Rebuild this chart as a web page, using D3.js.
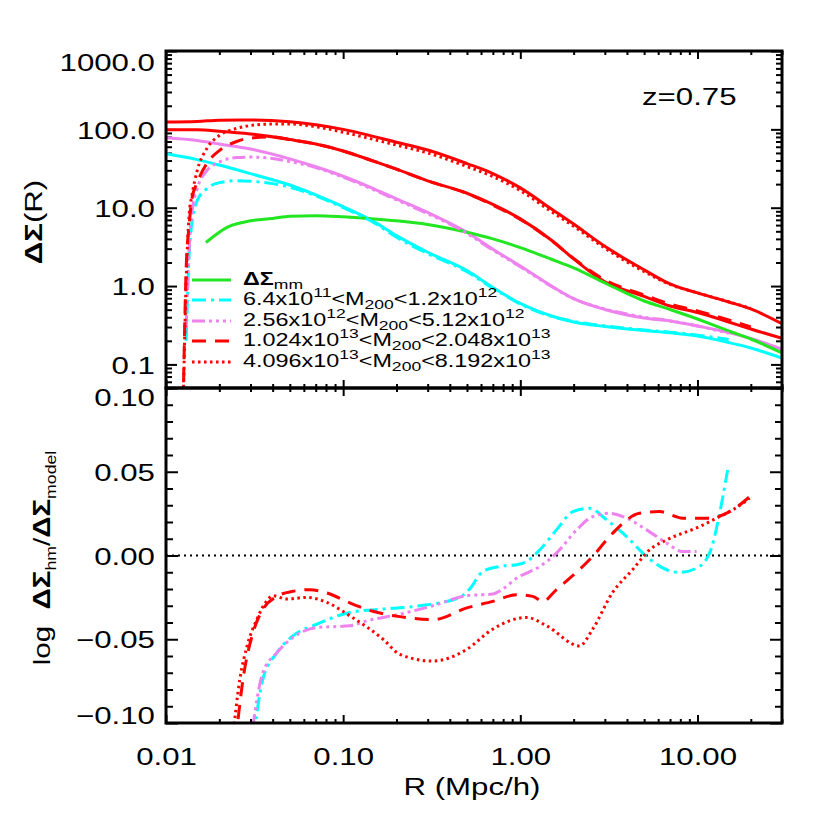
<!DOCTYPE html>
<html>
<head>
<meta charset="utf-8">
<script src="https://cdn.jsdelivr.net/npm/d3@7"></script>
<style>
body { margin: 0; background: #fff; }
text { font-family: "Liberation Sans", Arial, sans-serif; fill: #000; }
</style>
</head>
<body>
<svg id="chart" width="830" height="830"></svg>
<script>
// ---- top panel: Delta Sigma(R) ----
const rGrid = [0.01, 0.015, 0.02, 0.03, 0.05, 0.07, 0.1, 0.15, 0.2, 0.3, 0.5, 0.7, 1, 1.5, 2, 3, 5, 7, 10, 15, 20, 30];
const modelBin1 = [48.7, 41.1, 35, 27.2, 19.5, 14.6, 10.3, 6.6, 4.4, 2.7, 1.58, 0.96, 0.6, 0.415, 0.348, 0.305, 0.271, 0.254, 0.23, 0.19, 0.162, 0.12];
const modelBin2 = [78, 72, 65, 56.1, 42, 33.3, 25.2, 17.3, 13, 8.7, 4.85, 2.95, 1.8, 1.0, 0.69, 0.502, 0.391, 0.358, 0.309, 0.255, 0.214, 0.156];
const modelBin3 = [98.6, 98.6, 94.6, 87.3, 74, 65, 53, 39, 31, 22, 15.3, 11.0, 7.2, 3.84, 2.22, 1.13, 0.74, 0.557, 0.46, 0.348, 0.283, 0.215];
const modelBin4 = [124, 126, 131, 132, 125, 114.3, 99.9, 80.8, 68.6, 54.5, 36.6, 27.3, 17.9, 9.62, 6.18, 3.21, 1.61, 1.064, 0.817, 0.627, 0.51, 0.331];

const mmR = [0.0168, 0.0224, 0.03, 0.04, 0.05, 0.07, 0.1, 0.15, 0.2, 0.3, 0.5, 0.7, 1, 1.5, 2, 3, 5, 7, 10, 15, 20, 30];
const mmVals = [3.6, 5.7, 6.8, 7.3, 7.8, 7.9, 7.65, 7.2, 6.8, 6.1, 4.85, 4.0, 3.1, 2.2, 1.71, 1.1, 0.645, 0.502, 0.38, 0.267, 0.211, 0.14];

const hmGrid = [0.0125, 0.013, 0.0135, 0.014, 0.015, 0.017, 0.02, 0.025, 0.03, 0.04, 0.05, 0.07, 0.1, 0.15, 0.2, 0.3, 0.5, 0.7, 1, 1.5, 2, 3, 5, 7, 10, 15, 20];
const hmBin1 = [null, 0.2, 2.43, 6.4, 12.3, 17.5, 20.9, 22.1, 21.8, 20.3, 18.3, 14.2, 10.0, 6.4, 4.2, 2.6, 1.52, 0.94, 0.59, 0.41, 0.355, 0.31, 0.275, 0.258, 0.236, 0.208, null];
const hmBin2 = [null, 0.29, 2.8, 8.6, 17.5, 29.7, 38.2, 43.6, 44.3, 42.4, 38.8, 32.5, 24.5, 16.8, 12.6, 8.4, 4.7, 2.88, 1.76, 0.99, 0.69, 0.51, 0.40, 0.36, 0.31, 0.25, null];
const hmBin3 = [0.03, 1.71, 5.9, 13, 20.9, 36.6, 53.6, 70, 77.5, 80, 74, 65, 53, 39, 31, 22, 15.2, 10.8, 7.1, 3.8, 2.25, 1.2, 0.77, 0.59, 0.48, 0.37, 0.3];
const hmBin4 = [0.03, 1.16, 7.9, 14.2, 29.7, 56.9, 83.4, 102.6, 112, 117, 117, 108, 92, 74, 63, 50, 33.5, 25, 16.5, 8.9, 5.8, 3.05, 1.53, 1.05, 0.82, 0.63, 0.52];

// ---- bottom panel: log ratio ----
const ratioR1 = [0.030, 0.0352, 0.0423, 0.052, 0.0711, 0.109, 0.168, 0.271, 0.455, 0.518, 0.614, 0.766, 0.955, 1.086, 1.29, 1.60, 1.98, 2.46, 3.07, 3.98, 5.16, 6.70, 7.93, 9.89, 11.7, 13.0, 13.9, 14.8];
const ratio1 = [-0.125, -0.074, -0.058, -0.048, -0.041, -0.034, -0.032, -0.030, -0.025, -0.020, -0.0095, -0.0065, -0.0055, -0.0036, 0.0034, 0.0153, 0.0262, 0.0282, 0.0213, 0.0113, -0.0006, -0.0085, -0.0101, -0.0075, 0.0014, 0.0193, 0.0351, 0.051];
const ratioR2 = [0.029, 0.0352, 0.0423, 0.052, 0.0711, 0.109, 0.136, 0.209, 0.321, 0.499, 0.698, 0.796, 0.955, 1.29, 1.60, 2.08, 2.56, 3.19, 3.98, 5.16, 6.70, 8.24, 9.89];
const ratio2 = [-0.125, -0.070, -0.058, -0.049, -0.043, -0.042, -0.039, -0.035, -0.030, -0.024, -0.023, -0.020, -0.0135, -0.0065, 0.0014, 0.0153, 0.0232, 0.0252, 0.0223, 0.0153, 0.0074, 0.0024, 0.0024];
const ratioR3 = [0.024, 0.0272, 0.031, 0.0352, 0.0423, 0.052, 0.0649, 0.0809, 0.109, 0.147, 0.209, 0.321, 0.499, 0.698, 0.955, 1.175, 1.337, 1.60, 2.56, 3.32, 4.71, 6.11, 8.24, 11.7, 15.2, 19.7];
const ratio3 = [-0.125, -0.074, -0.046, -0.0323, -0.0244, -0.0214, -0.0204, -0.0224, -0.0283, -0.0333, -0.0365, -0.0383, -0.0313, -0.0274, -0.0234, -0.0244, -0.0274, -0.0204, -0.0006, 0.0133, 0.0252, 0.0262, 0.0223, 0.0223, 0.0262, 0.0351];
const ratioR4 = [0.0235, 0.0261, 0.0287, 0.0326, 0.0371, 0.0401, 0.0481, 0.0624, 0.0809, 0.109, 0.168, 0.209, 0.321, 0.400, 0.499, 0.698, 1.086, 1.41, 2.16, 2.56, 3.32, 4.30, 5.37, 6.70, 10.3, 12.8, 15.8, 19.7];
const ratio4 = [-0.115, -0.074, -0.054, -0.038, -0.027, -0.024, -0.026, -0.025, -0.028, -0.036, -0.050, -0.059, -0.063, -0.061, -0.056, -0.044, -0.037, -0.042, -0.054, -0.044, -0.022, -0.0085, 0.0034, 0.0093, 0.0173, 0.0223, 0.0272, 0.0342];

// ---- ticks and labels ----
const xMajor = [0.01, 0.1, 1, 10];
const yTopMajor = [0.1, 1, 10, 100, 1000];
const yBotMajor = [-0.1, -0.05, 0, 0.05, 0.1];
const legendLabels = [
    [['ΔΣ', 'b'], ['mm', 'sub']],
    [['6.4x10'], ['11', 'sup'], ['<M'], ['200', 'sub'], ['<1.2x10'], ['12', 'sup']],
    [['2.56x10'], ['12', 'sup'], ['<M'], ['200', 'sub'], ['<5.12x10'], ['12', 'sup']],
    [['1.024x10'], ['13', 'sup'], ['<M'], ['200', 'sub'], ['<2.048x10'], ['13', 'sup']],
    [['4.096x10'], ['13', 'sup'], ['<M'], ['200', 'sub'], ['<8.192x10'], ['13', 'sup']]
];

const plotLeft = 166, plotRight = 782, plotTop = 51, plotMid = 388, plotBottom = 723;
const stretch = 'scale(1.3,1)';
const green = '#22e622', cyan = '#00ffff', violet = '#ee82ee', red = '#ff0000';
const dashDot = '14,5,3,5', dashDot3 = '13,4,3,4,3,4,3,4', dashed = '14,9', dotted = '2.5,3.5';

const svg = d3.select('#chart');

const xScale = d3.scaleLog().domain([0.01, 30]).range([plotLeft, plotRight]);
const yTop = d3.scaleLog().domain([0.05, 1000]).range([plotMid, plotTop]);
const yBot = d3.scaleLinear().domain([-0.1, 0.1]).range([plotBottom, plotMid]);

const defs = svg.append('defs');
defs.append('clipPath').attr('id', 'clipTop')
    .append('rect').attr('x', plotLeft).attr('y', plotTop)
    .attr('width', plotRight - plotLeft).attr('height', plotMid - plotTop);
defs.append('clipPath').attr('id', 'clipBot')
    .append('rect').attr('x', plotLeft).attr('y', plotMid)
    .attr('width', plotRight - plotLeft).attr('height', plotBottom - plotMid);

const isMajor = (v, majors) => majors.some(m => Math.abs(v / m - 1) < 1e-6);
const xMinor = xScale.ticks().filter(v => !isMajor(v, xMajor));
const yTopMinor = yTop.ticks().filter(v => !isMajor(v, yTopMajor));
const yBotMinor = d3.range(-9, 10).map(i => i / 100).filter(v => Math.round(v * 100) % 5 !== 0);

function addAxis(axisFn, scale, values, size, transform, fmt, pad) {
    const ax = axisFn(scale)
        .tickValues(values)
        .tickSize(-size)
        .tickSizeOuter(0)
        .tickPadding(pad || 0)
        .tickFormat(fmt || (() => ''));
    const g = svg.append('g')
        .attr('transform', transform)
        .call(ax)
        .attr('font-family', '"Liberation Sans", Arial, sans-serif')
        .attr('font-size', 24);
    g.select('.domain').remove();
    g.selectAll('line').attr('stroke', '#000').attr('stroke-width', 2);
    g.selectAll('text').attr('fill', '#000').attr('transform', stretch);
    return g;
}

// x ticks on both edges of both panels
[[plotMid, plotTop], [plotBottom, plotMid]].forEach(([yb, yt]) => {
    addAxis(d3.axisBottom, xScale, xMajor, 8, `translate(0,${yb})`);
    addAxis(d3.axisBottom, xScale, xMinor, 4, `translate(0,${yb})`);
    addAxis(d3.axisTop, xScale, xMajor, 8, `translate(0,${yt})`);
    addAxis(d3.axisTop, xScale, xMinor, 4, `translate(0,${yt})`);
});
// x labels under the bottom panel
addAxis(d3.axisBottom, xScale, xMajor, 0, `translate(0,${plotBottom})`, d3.format('.2f'), 25)
    .selectAll('line').remove();

// top panel y ticks
const topLabels = addAxis(d3.axisLeft, yTop, yTopMajor, 11, `translate(${plotLeft},0)`, d3.format('.1f'), 8.5);
topLabels.selectAll('text').attr('dy', '0.36em').attr('y', d => d === 1000 ? 11 : 0);
addAxis(d3.axisLeft, yTop, yTopMinor, 6, `translate(${plotLeft},0)`);
addAxis(d3.axisRight, yTop, yTopMajor, 11, `translate(${plotRight},0)`);
addAxis(d3.axisRight, yTop, yTopMinor, 6, `translate(${plotRight},0)`);

// bottom panel y ticks
const botLabels = addAxis(d3.axisLeft, yBot, yBotMajor, 12, `translate(${plotLeft},0)`, d3.format('.2f'), 8.5);
botLabels.selectAll('text').attr('dy', '0.36em').attr('y', d => d === 0.1 ? 9 : d === -0.1 ? -8 : 0);
addAxis(d3.axisLeft, yBot, yBotMinor, 7, `translate(${plotLeft},0)`);
addAxis(d3.axisRight, yBot, yBotMajor, 12, `translate(${plotRight},0)`);
addAxis(d3.axisRight, yBot, yBotMinor, 7, `translate(${plotRight},0)`);

// ---- curves ----
const lineTop = d3.line()
    .defined(d => d[1] !== null)
    .x(d => xScale(d[0]))
    .y(d => yTop(d[1]))
    .curve(d3.curveMonotoneX);
const lineBot = d3.line()
    .x(d => xScale(d[0]))
    .y(d => yBot(d[1]))
    .curve(d3.curveMonotoneX);

const topSeries = [
    { r: rGrid, v: modelBin1, color: cyan, dash: null },
    { r: rGrid, v: modelBin2, color: violet, dash: null },
    { r: rGrid, v: modelBin3, color: red, dash: null },
    { r: rGrid, v: modelBin4, color: red, dash: null },
    { r: mmR, v: mmVals, color: green, dash: null },
    { r: hmGrid, v: hmBin1, color: cyan, dash: dashDot },
    { r: hmGrid, v: hmBin2, color: violet, dash: dashDot3 },
    { r: hmGrid, v: hmBin3, color: red, dash: dashed },
    { r: hmGrid, v: hmBin4, color: red, dash: dotted }
];

const gTop = svg.append('g').attr('clip-path', 'url(#clipTop)');
gTop.selectAll('path')
    .data(topSeries)
    .enter()
    .append('path')
    .attr('d', s => lineTop(s.r.map((r, i) => [r, s.v[i]])))
    .attr('fill', 'none')
    .attr('stroke', s => s.color)
    .attr('stroke-width', 3)
    .attr('stroke-dasharray', s => s.dash);

const botSeries = [
    { r: ratioR1, v: ratio1, color: cyan, dash: dashDot },
    { r: ratioR2, v: ratio2, color: violet, dash: dashDot3 },
    { r: ratioR3, v: ratio3, color: red, dash: dashed },
    { r: ratioR4, v: ratio4, color: red, dash: dotted }
];

const gBot = svg.append('g').attr('clip-path', 'url(#clipBot)');
gBot.append('line')
    .attr('x1', plotLeft).attr('x2', plotRight)
    .attr('y1', yBot(0)).attr('y2', yBot(0))
    .attr('stroke', '#000')
    .attr('stroke-width', 2)
    .attr('stroke-dasharray', '2,4');
gBot.selectAll('path')
    .data(botSeries)
    .enter()
    .append('path')
    .attr('d', s => lineBot(s.r.map((r, i) => [r, s.v[i]])))
    .attr('fill', 'none')
    .attr('stroke', s => s.color)
    .attr('stroke-width', 3)
    .attr('stroke-dasharray', s => s.dash);

// frames
[[plotTop, plotMid], [plotMid, plotBottom]].forEach(([y0, y1]) => {
    svg.append('rect')
        .attr('x', plotLeft).attr('y', y0)
        .attr('width', plotRight - plotLeft).attr('height', y1 - y0)
        .attr('fill', 'none')
        .attr('stroke', '#000')
        .attr('stroke-width', 3);
});

// ---- legend ----
const legendStyles = [
    { color: green, dash: null },
    { color: cyan, dash: dashDot },
    { color: violet, dash: dashDot3 },
    { color: red, dash: dashed },
    { color: red, dash: dotted }
];
const legendBase = [285, 305, 326, 346, 367];

function richText(g, parts, size, small) {
    let shift = 0;
    const k = small || 0.75;
    parts.forEach(([t, kind]) => {
        let target = 0, fs = size, weight = null;
        if (kind === 'sup') { target = -size * 0.44; fs = size * k; }
        if (kind === 'sub') { target = size * 0.24; fs = size * k; }
        if (kind === 'b') { weight = 'bold'; }
        g.append('tspan')
            .attr('dy', target - shift)
            .attr('font-size', fs)
            .attr('font-weight', weight)
            .text(t);
        shift = target;
    });
}

legendLabels.forEach((parts, i) => {
    const y = legendBase[i];
    svg.append('line')
        .attr('x1', 192).attr('x2', 231)
        .attr('y1', y - 5).attr('y2', y - 5)
        .attr('stroke', legendStyles[i].color)
        .attr('stroke-width', 3)
        .attr('stroke-dasharray', legendStyles[i].dash);
    const t = svg.append('text')
        .attr('transform', `translate(243,${y}) ${stretch}`)
        .attr('font-size', 18);
    richText(t, parts, 18);
});

// ---- titles ----
svg.append('text')
    .attr('transform', `translate(642,105) ${stretch}`)
    .attr('font-size', 24)
    .text('z=0.75');

svg.append('text')
    .attr('transform', `translate(472,795) ${stretch}`)
    .attr('font-size', 24)
    .style('text-anchor', 'middle')
    .text('R (Mpc/h)');

const yLabTop = svg.append('text')
    .attr('transform', `translate(42,222) rotate(-90) ${stretch}`)
    .attr('font-size', 24)
    .style('text-anchor', 'middle');
richText(yLabTop, [['ΔΣ', 'b'], ['(R)']], 24);

const yLabBot = svg.append('text')
    .attr('transform', `translate(50,558) rotate(-90) scale(1.23,1)`)
    .attr('font-size', 24)
    .style('text-anchor', 'middle')
    .style('white-space', 'pre');
richText(yLabBot, [['log  '], ['ΔΣ', 'b'], ['hm', 'sub'], ['/'], ['ΔΣ', 'b'], ['model', 'sub']], 24, 0.6);
</script>
</body>
</html>
